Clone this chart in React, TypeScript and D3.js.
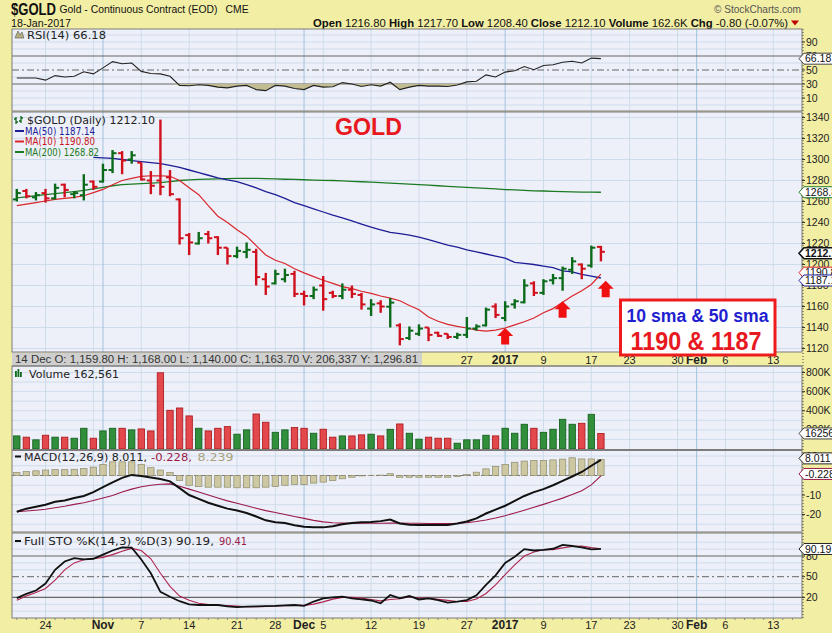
import React from "react";
import * as d3 from "d3";

// ---------------- DATA ----------------
const dates = [
  "2016-10-19","2016-10-20","2016-10-21","2016-10-24","2016-10-25","2016-10-26","2016-10-27","2016-10-28","2016-10-31",
  "2016-11-01","2016-11-02","2016-11-03","2016-11-04","2016-11-07","2016-11-08","2016-11-09","2016-11-10","2016-11-11",
  "2016-11-14","2016-11-15","2016-11-16","2016-11-17","2016-11-18","2016-11-21","2016-11-22","2016-11-23","2016-11-25",
  "2016-11-28","2016-11-29","2016-11-30","2016-12-01","2016-12-02","2016-12-05","2016-12-06","2016-12-07","2016-12-08","2016-12-09",
  "2016-12-12","2016-12-13","2016-12-14","2016-12-15","2016-12-16","2016-12-19","2016-12-20","2016-12-21","2016-12-22","2016-12-23",
  "2016-12-27","2016-12-28","2016-12-29","2016-12-30","2017-01-03","2017-01-04","2017-01-05","2017-01-06","2017-01-09","2017-01-10",
  "2017-01-11","2017-01-12","2017-01-13","2017-01-17","2017-01-18"
];
const futureDates = [
  "2017-01-19","2017-01-20","2017-01-23","2017-01-24","2017-01-25","2017-01-26","2017-01-27","2017-01-30","2017-01-31",
  "2017-02-01","2017-02-02","2017-02-03","2017-02-06","2017-02-07","2017-02-08","2017-02-09","2017-02-10","2017-02-13",
  "2017-02-14","2017-02-15","2017-02-16","2017-02-17","2017-02-21"
];

const opens = [1262,1270,1264,1268,1263,1276,1267,1266,1279,1279,1290,1306,1300,1297,1280,1280,1283,1262,1228,1220,1229,1226,1216,1208,1212,1212,1186,1182,1186,1191,1172,1170,1180,1173,1170,1176,1171,1158,1163,1159.8,1142,1130,1134,1140,1135,1134,1131,1133,1139,1142,1160,1149,1162,1164,1182,1173,1185,1187,1195,1200,1199,1216.8];
const highs = [1272,1272,1269,1272,1277,1277,1270,1286,1280,1296,1309,1308,1308,1297,1289,1338,1290,1263,1230,1231,1232,1227,1216,1217,1221,1215,1192,1195,1196,1194,1175,1179,1189,1175,1182,1180,1173,1167,1166,1168,1144,1141,1143,1140,1136,1134,1135,1150,1143,1159,1163,1165,1167,1186,1184,1186,1191,1198,1207,1201,1218,1217.7];
const lows = [1260,1263,1261,1259,1262,1264,1263,1261,1271,1278,1287,1286,1296,1280,1267,1266,1265,1219,1209,1219,1220,1209,1200,1206,1206,1180,1171,1181,1183,1169,1161,1167,1156,1168,1167,1168,1157,1151,1154,1140,1123,1128,1132,1127,1131,1129,1129,1130,1137,1141,1149,1146,1158,1163,1170,1171,1181,1175,1191,1186,1197,1203];
const closes = [1268,1265,1266,1263,1273,1271,1268,1276,1274,1290,1306,1299,1304,1281,1275,1274,1267,1225,1221,1225,1225,1216,1208,1213,1214,1188,1179,1191,1190,1172,1170,1176,1167,1170,1176,1172,1162,1162,1160,1163.7,1129,1137,1139,1133,1132,1131,1133,1139,1141,1157,1152,1160,1165,1180,1173,1184,1187,1196,1203,1196,1216,1212.1];
// thousands of contracts
const volumes = [137,124,96,144,124,124,113,217,113,189,217,217,200,210,189,797,405,429,346,217,189,217,234,155,200,366,280,175,200,224,217,165,207,124,137,137,148,155,137,206.3,262,165,103,124,113,113,61,96,96,144,137,217,165,259,217,175,207,311,259,269,363,162.6];

const ma10 = [1256,1257.5,1259,1260.5,1262,1263,1264,1265.5,1268.5,1271.5,1276,1280,1282,1284,1284.5,1284.5,1284,1280,1273,1266.5,1256,1246,1240,1233,1227,1218,1209,1204,1201,1196,1192,1188.5,1185,1182,1179,1177,1174.5,1172.5,1170,1168,1165.5,1161,1157,1150,1146,1143,1141,1139.5,1137.5,1136.5,1137.5,1139.5,1142.5,1145.5,1149,1154,1158,1164,1170,1175,1181,1190.8];
const ma50 = [null,null,null,null,null,null,null,null,1302,1301.5,1301,1300,1299,1298,1297,1296,1294.5,1292.5,1290,1287.5,1285,1282.5,1280.5,1279,1276,1273,1269.5,1266.5,1263,1259,1256,1253,1250,1247,1244.5,1241.5,1238.5,1235.5,1233,1230.5,1229.5,1228,1226,1223.6,1221,1218.5,1216.5,1214,1212,1210,1208,1206,1202,1201,1200,1198.5,1197,1194,1193,1190.5,1189,1187.14];
const ma200 = [1263.5,1264.5,1265.5,1266.5,1267.5,1268.5,1269.5,1270.5,1272,1273.5,1275,1276,1276.5,1277,1277.5,1278,1279,1280,1280.5,1281,1281.3,1281.5,1281.7,1282,1282,1282,1281.8,1281.5,1281.2,1281,1280.7,1280.4,1280.2,1280,1279.6,1279.2,1278.8,1278.4,1278,1277.5,1277,1276.5,1276,1275.5,1275,1274.5,1274,1273.5,1273,1272.5,1272,1271.4,1271,1270.5,1270.2,1270,1269.7,1269.4,1269.2,1269,1268.9,1268.82];

const rsi = [38.5,38.5,38.5,35.5,42,40,41,47.5,44.5,53,62,59,60,48,45,44.5,41,28,27.5,29,28,25.5,24.5,27,28,22,20.5,28,27,23.5,22,28,25.5,26,32,30,26.5,29,27,32.5,22,25.5,28,27,27,26.5,28.5,33,34,43,40,47,49,55,50.5,56.5,57.5,61,62.5,60,67,66.18];

const macd = [-18.6,-17,-16,-15,-13.5,-12.8,-11.5,-10.5,-8.5,-6,-3.5,-1.2,0.3,-0.3,-1,-1.8,-3,-6.5,-10,-12,-14,-15.5,-17,-18,-19.2,-21,-23,-24,-24.4,-25.5,-26.3,-26.6,-26.6,-26,-25,-24.3,-24,-23.8,-23.4,-22.6,-24.6,-25.2,-25.4,-25.4,-25.4,-25.4,-24.6,-23.6,-22,-19.5,-17.5,-15.5,-13,-10.5,-8.5,-7,-5,-2.8,-0.5,1.8,5,8.011];
const signal = [-18.6,-18.2,-17.8,-17.3,-16.5,-15.8,-14.8,-14,-12.8,-11.5,-10.3,-8.5,-7,-5.8,-5,-4.5,-4.3,-5.5,-7,-8.5,-10,-11.5,-13,-14.2,-15.5,-16.8,-18,-19,-20,-21,-22,-23,-23.8,-24.2,-24.4,-24.5,-24.5,-24.5,-24.5,-24.4,-24.4,-24.5,-24.5,-24.6,-24.6,-24.6,-24.5,-24.2,-23.6,-22.8,-21.8,-20.6,-19.2,-17.8,-16.3,-14.8,-13.2,-11.6,-9.8,-7.8,-4.8,-0.228];
const hist = [1.5,2,2.4,2.8,3,3,3.2,3.6,4.3,5.7,7,7,7,5.7,4,2.8,1.5,-2.6,-5,-5.7,-6,-6,-6,-6.3,-6.3,-6.3,-6,-5.7,-5,-4.6,-4.7,-3.9,-3.4,-2.6,-1.7,-0.9,-0.2,0.1,0.2,0.9,-0.9,-0.9,-0.9,-0.9,-0.9,-0.9,-0.5,0.5,1.7,3.4,4.6,5.6,6.8,7.4,7.7,7.7,8,8.4,9.1,8.5,8.5,8.239];

const stoK = [19,25,30,40,60,72,77,75,76,82,88,92.5,92,75,55,28,21,14.5,10,9,9,9,7,5.8,6.5,7,7.5,7.7,8.5,9,7.7,14,18.6,20,21,18.6,17,15.5,11.5,23.5,18.6,22,17,18.6,16,12.4,14,16,23,38,52,70,79,90,88,89,90.5,96,94.5,92.6,89.6,90.19];
const stoD = [16,22,27,33,45,60,70,74.5,76,78,82,87,91,88,76,55,36,22,16,11.5,9.5,9,8.3,7.3,6.5,6.5,7,7.5,8,8.4,8.4,10.3,13.5,17.5,20,20,19,17,15,17,18,21,19,19,17.2,15.7,14.1,14.1,17.7,25.7,38,53,67,80,85.7,89,89.2,91.8,93.7,94.4,92.2,90.41];

const axisLabels: [string, string, boolean][] = [
  ["2016-10-24","24",false],["2016-11-01","Nov",true],["2016-11-07","7",false],["2016-11-14","14",false],
  ["2016-11-21","21",false],["2016-11-28","28",false],["2016-12-01","Dec",true],["2016-12-05","5",false],
  ["2016-12-12","12",false],["2016-12-19","19",false],["2016-12-27","27",false],["2017-01-03","2017",true],
  ["2017-01-09","9",false],["2017-01-17","17",false],["2017-01-23","23",false],["2017-01-30","30",false],
  ["2017-02-01","Feb",true],["2017-02-06","6",false],["2017-02-13","13",false]
];
const weekGrid = ["2016-10-24","2016-10-31","2016-11-07","2016-11-14","2016-11-21","2016-11-28","2016-12-05","2016-12-12","2016-12-19","2016-12-27","2017-01-09","2017-01-17","2017-01-23","2017-01-30","2017-02-06","2017-02-13"];
const monthGrid = ["2016-11-01","2016-12-01","2017-01-03","2017-02-01"];

const arrowAt = [51, 57, 61.5];
const arrowTip = [1139.5, 1165, 1184.6];

// ---------------- STYLE ----------------
const YELLOW = "#f2eea4";
const PLOTBG = "#eef0f9";
const GRID = "#cddceb";
const GRIDM = "#9fc2de";
const BORDER = "#7c7c7c";
const UP = "#0b6b1a";
const DN = "#d0101c";
const SANS = "'Liberation Sans', Arial, sans-serif";
const NARROW = "'Liberation Sans Narrow', 'Arial Narrow', 'Liberation Sans', sans-serif";
const VERD = "'DejaVu Sans', Verdana, sans-serif";

const L = 12, R = 802;
const P = {
  rsi: [29, 111],
  main: [112, 352],
  vol: [366, 449.5],
  macd: [450.5, 532],
  sto: [533, 618],
};

function ValBox({ y, text, color, bold }: { y: number; text: string; color: string; bold?: boolean }) {
  return (
    <g>
      <path d={`M799,${y} L804,${y - 5.5} L836,${y - 5.5} L836,${y + 5.5} L804,${y + 5.5} Z`} fill="#fff" stroke={color} strokeWidth={bold ? 1.6 : 1} />
      <text x={805} y={y + 3.7} fontSize={10.5} fontFamily={SANS} fontWeight={bold ? "bold" : "normal"} fill="#111">{text}</text>
    </g>
  );
}

export default function App() {
  const sessions = [...dates, ...futureDates];
  const x = d3.scaleLinear().domain([-0.5, 82]).range([L, R]);
  const xd = (d: string) => x(sessions.indexOf(d));

  const yMain = d3.scaleLinear().domain([1120, 1340]).range([348.5, 117.5]);
  const yRsi = d3.scaleLinear().domain([30, 70]).range([84, 56]);
  const yVol = d3.scaleLinear().domain([0, 800]).range([449, 372.5]);
  const yMacd = d3.scaleLinear().domain([-20, 0]).range([514.5, 475.5]);
  const ySto = d3.scaleLinear().domain([20, 80]).range([597.4, 556]);

  const lineOf = (vals: (number | null)[], ys: d3.ScaleLinear<number, number>) =>
    d3.line<number | null>()
      .defined((v) => v != null)
      .x((_, i) => x(i))
      .y((v) => ys(v as number))
      .curve(d3.curveLinear)(vals) || "";

  const rsiFill = d3.area<number>()
    .x((_, i) => x(i))
    .y0(yRsi(30))
    .y1((v) => yRsi(Math.min(v, 30)))(rsi) || "";

  const panels = Object.entries(P);

  const vGrid = (top: number, bot: number) => (
    <g>
      {weekGrid.map((d) => <line key={d} x1={xd(d)} x2={xd(d)} y1={top} y2={bot} stroke={GRID} strokeWidth={1} />)}
      {monthGrid.map((d) => <line key={d} x1={xd(d)} x2={xd(d)} y1={top} y2={bot} stroke={GRIDM} strokeWidth={1} />)}
    </g>
  );
  const hGrid = (vals: number[], ys: d3.ScaleLinear<number, number>) => (
    <g>{vals.map((v) => <line key={v} x1={L} x2={R} y1={ys(v)} y2={ys(v)} stroke={GRID} strokeWidth={1} />)}</g>
  );
  const axisLabel = (y: number, t: string, k: string) => (
    <g key={k}>
      <line x1={R} x2={R + 3} y1={y} y2={y} stroke="#333" />
      <text x={R + 4} y={y + 3.6} fontSize={10.5} fontFamily={SANS} fill="#222">{t}</text>
    </g>
  );

  const up = (k: number) => closes[k] >= opens[k];

  return (
    <svg width={832} height={633} viewBox="0 0 832 633" style={{ position: "absolute", left: 0, top: 0, display: "block" }}>
      <defs>
        {panels.map(([k, [t, b]]) => (
          <clipPath id={`clip-${k}`} key={k}><rect x={L} y={t} width={R - L} height={b - t} /></clipPath>
        ))}
      </defs>
      <rect x={0} y={0} width={832} height={633} fill={YELLOW} />
      {panels.map(([k, [t, b]]) => <rect key={k} x={L} y={t} width={R - L} height={b - t} fill={PLOTBG} />)}

      {/* ---------- header ---------- */}
      <text x={11} y={14.5} fontFamily={NARROW} fontWeight="bold" fontSize={16} textLength={45} lengthAdjust="spacingAndGlyphs" fill="#111">$GOLD</text>
      <text x={59.5} y={13} fontFamily={NARROW} fontSize={11} textLength={158} lengthAdjust="spacingAndGlyphs" fill="#111">Gold - Continuous Contract (EOD)</text>
      <text x={225.6} y={13} fontFamily={NARROW} fontSize={11} textLength={23} lengthAdjust="spacingAndGlyphs" fill="#111">CME</text>
      <text x={714} y={12.5} fontFamily={NARROW} fontSize={11} textLength={87} lengthAdjust="spacingAndGlyphs" fill="#555">© StockCharts.com</text>
      <text x={11} y={26.5} fontFamily={NARROW} fontSize={11} textLength={60} lengthAdjust="spacingAndGlyphs" fill="#111">18-Jan-2017</text>
      <text x={313} y={26.5} fontFamily={NARROW} fontSize={11} textLength={475} lengthAdjust="spacingAndGlyphs" fill="#111">
        <tspan fontWeight="bold">Open</tspan> 1216.80 <tspan fontWeight="bold">High</tspan> 1217.70 <tspan fontWeight="bold">Low</tspan> 1208.40 <tspan fontWeight="bold">Close</tspan> 1212.10 <tspan fontWeight="bold">Volume</tspan> 162.6K <tspan fontWeight="bold">Chg</tspan> -0.80 (-0.07%)
      </text>
      <path d="M791,20.5 L799,20.5 L795,25.5 Z" fill="#c00000" />

      {/* ---------- RSI ---------- */}
      <g clipPath="url(#clip-rsi)">
        {hGrid([0, 10, 20, 40, 60, 80, 90, 100], yRsi)}
        {vGrid(P.rsi[0], P.rsi[1])}
        <line x1={L} x2={R} y1={yRsi(70)} y2={yRsi(70)} stroke="#666" strokeWidth={1.2} />
        <line x1={L} x2={R} y1={yRsi(30)} y2={yRsi(30)} stroke="#666" strokeWidth={1.2} />
        <line x1={L} x2={R} y1={yRsi(50)} y2={yRsi(50)} stroke="#666" strokeWidth={1} strokeDasharray="7,3,2,3" />
        <path d={rsiFill} fill="#c2bc92" stroke="none" />
        <path d={lineOf(rsi, yRsi)} fill="none" stroke="#222" strokeWidth={1.1} />
      </g>
      <path d="M15,38 L18,31 L20,35 L22,32 L24,38 Z" fill="#b8b080" stroke="#555" strokeWidth={0.6} />
      <text x={27} y={38.5} fontFamily={VERD} fontSize={10} textLength={79} lengthAdjust="spacingAndGlyphs" fill="#222">RSI(14) 66.18</text>

      {/* ---------- MAIN ---------- */}
      <g clipPath="url(#clip-main)">
        {hGrid(d3.range(1120, 1341, 20), yMain)}
        {vGrid(P.main[0], P.main[1])}
        <path d={lineOf(ma200, yMain)} fill="none" stroke="#1d7a24" strokeWidth={1.3} />
        <path d={lineOf(ma50, yMain)} fill="none" stroke="#1d1d95" strokeWidth={1.3} />
        <path d={lineOf(ma10, yMain)} fill="none" stroke="#d8262b" strokeWidth={1.2} />
        {dates.map((d, k) => {
          const cx = x(k);
          const c = up(k) ? UP : DN;
          return (
            <g key={d} stroke={c}>
              <line x1={cx} x2={cx} y1={yMain(highs[k])} y2={yMain(lows[k])} strokeWidth={2.4} />
              <line x1={cx - 4} x2={cx} y1={yMain(opens[k])} y2={yMain(opens[k])} strokeWidth={2} />
              <line x1={cx} x2={cx + 4} y1={yMain(closes[k])} y2={yMain(closes[k])} strokeWidth={2} />
            </g>
          );
        })}
        {arrowAt.map((a, k) => {
          const cx = x(a);
          const ty = yMain(arrowTip[k]);
          return <path key={k} d={`M${cx},${ty} L${cx + 8},${ty + 8} L${cx + 4},${ty + 8} L${cx + 4},${ty + 16.5} L${cx - 4},${ty + 16.5} L${cx - 4},${ty + 8} L${cx - 8},${ty + 8} Z`} fill="#f01010" />;
        })}
      </g>
      <g stroke={UP} strokeWidth={1.3}>
        <line x1={16} x2={16} y1={117} y2={124} /><line x1={14} x2={16} y1={119} y2={119} /><line x1={16} x2={18} y1={122} y2={122} />
        <line x1={21} x2={21} y1={116} y2={123} /><line x1={19} x2={21} y1={121} y2={121} /><line x1={21} x2={23} y1={118} y2={118} />
      </g>
      <text x={27} y={124} fontFamily={VERD} fontSize={10} textLength={128} lengthAdjust="spacingAndGlyphs" fill="#222">$GOLD (Daily) 1212.10</text>
      <line x1={15} x2={24} y1={131} y2={131} stroke="#1d1d95" strokeWidth={2} />
      <text x={25} y={134.8} fontFamily={VERD} fontSize={10} textLength={70} lengthAdjust="spacingAndGlyphs" fill="#1d1d95">MA(50) 1187.14</text>
      <line x1={15} x2={24} y1={141.5} y2={141.5} stroke="#d8262b" strokeWidth={2} />
      <text x={25} y={145.4} fontFamily={VERD} fontSize={10} textLength={70} lengthAdjust="spacingAndGlyphs" fill="#c8161b">MA(10) 1190.80</text>
      <line x1={15} x2={24} y1={152} y2={152} stroke="#1d7a24" strokeWidth={2} />
      <text x={25} y={156} fontFamily={VERD} fontSize={10} textLength={74} lengthAdjust="spacingAndGlyphs" fill="#1d7a24">MA(200) 1268.82</text>
      <text x={335} y={134.5} fontFamily={SANS} fontWeight="bold" fontSize={23} textLength={67} lengthAdjust="spacingAndGlyphs" fill="#e8191e">GOLD</text>

      {/* ---------- date strip ---------- */}
      <rect x={L} y={352.5} width={410} height={13.5} fill="#cfcfcf" />
      <text x={15} y={363} fontFamily={SANS} fontSize={10} textLength={403} lengthAdjust="spacingAndGlyphs" fill="#333">14 Dec O: 1,159.80  H: 1,168.00  L: 1,140.00  C: 1,163.70  V: 206,337  Y: 1,296.81</text>
      {axisLabels.filter(([d]) => xd(d) > 440).map(([d, t, b]) => (
        <text key={"s" + d} x={xd(d)} y={363.5} textAnchor="middle" fontFamily={NARROW} fontWeight={b ? "bold" : "normal"} fontSize={b ? 12 : 11} fill="#222">{t}</text>
      ))}

      {/* ---------- VOLUME ---------- */}
      <g clipPath="url(#clip-vol)">
        {hGrid([100, 200, 300, 400, 500, 600, 700, 800], yVol)}
        {vGrid(P.vol[0], P.vol[1])}
        {volumes.map((v, k) => (
          <rect key={k} x={x(k) - 3.2} y={yVol(v)} width={6.4} height={yVol(0) - yVol(v)}
            fill={up(k) ? "#318f3b" : "#e2484c"} stroke={up(k) ? "#0e5a18" : "#a81418"} strokeWidth={0.8} />
        ))}
      </g>
      <g fill={UP}><rect x={15} y={371} width={1.8} height={6} /><rect x={17.5} y={369} width={1.8} height={8} /><rect x={20} y={372} width={1.8} height={5} /></g>
      <text x={29} y={377.5} fontFamily={VERD} fontSize={10} textLength={90} lengthAdjust="spacingAndGlyphs" fill="#222">Volume 162,561</text>

      {/* ---------- MACD ---------- */}
      <g clipPath="url(#clip-macd)">
        {hGrid([10, 5, -5, -10, -15, -20, -25], yMacd)}
        {vGrid(P.macd[0], P.macd[1])}
        <line x1={L} x2={x(dates.length - 1) + 4} y1={yMacd(0)} y2={yMacd(0)} stroke="#777" strokeDasharray="4,3" />
        {hist.map((h, k) => (
          <rect key={k} x={x(k) - 3.2} y={Math.min(yMacd(h), yMacd(0))} width={6.4} height={Math.abs(yMacd(h) - yMacd(0))}
            fill="#cdc8a2" stroke="#8d8a6c" strokeWidth={0.7} />
        ))}
        <path d={lineOf(signal, yMacd)} fill="none" stroke="#9a1a4a" strokeWidth={1.1} />
        <path d={lineOf(macd, yMacd)} fill="none" stroke="#111" strokeWidth={2} />
      </g>
      <line x1={15} x2={21} y1={456.5} y2={456.5} stroke="#111" strokeWidth={2} />
      <text x={24} y={460.5} fontFamily={VERD} fontSize={10} textLength={123} lengthAdjust="spacingAndGlyphs" fill="#222">MACD(12,26,9) 8.011,</text>
      <text x={151} y={460.5} fontFamily={VERD} fontSize={10} textLength={41} lengthAdjust="spacingAndGlyphs" fill="#9a1a4a">-0.228,</text>
      <text x={197.5} y={460.5} fontFamily={VERD} fontSize={10} textLength={36} lengthAdjust="spacingAndGlyphs" fill="#a6a27c">8.239</text>

      {/* ---------- STO ---------- */}
      <g clipPath="url(#clip-sto)">
        {hGrid([0, 10, 30, 40, 60, 70, 90, 100], ySto)}
        {vGrid(P.sto[0], P.sto[1])}
        <line x1={L} x2={R} y1={ySto(80)} y2={ySto(80)} stroke="#666" strokeWidth={1.2} />
        <line x1={L} x2={R} y1={ySto(20)} y2={ySto(20)} stroke="#666" strokeWidth={1.2} />
        <line x1={L} x2={R} y1={ySto(50)} y2={ySto(50)} stroke="#666" strokeWidth={1} strokeDasharray="7,3,2,3" />
        <path d={lineOf(stoD, ySto)} fill="none" stroke="#b0234f" strokeWidth={1.1} />
        <path d={lineOf(stoK, ySto)} fill="none" stroke="#111" strokeWidth={1.8} />
      </g>
      <line x1={15} x2={21} y1={541} y2={541} stroke="#111" strokeWidth={2} />
      <text x={24} y={545} fontFamily={VERD} fontSize={10} textLength={190} lengthAdjust="spacingAndGlyphs" fill="#222">Full STO %K(14,3) %D(3) 90.19,</text>
      <text x={219} y={545} fontFamily={VERD} fontSize={10} textLength={28} lengthAdjust="spacingAndGlyphs" fill="#9a1a4a">90.41</text>

      {/* ---------- panel borders ---------- */}
      {panels.map(([k, [t, b]]) => <rect key={"b" + k} x={L} y={t} width={R - L} height={b - t} fill="none" stroke={BORDER} strokeWidth={1} />)}
      <line x1={L} x2={R} y1={366} y2={366} stroke={BORDER} />

      {/* ---------- annotation box ---------- */}
      <rect x={620.5} y={300} width={154.5} height={55} fill="#fff" stroke="#ee1c1c" strokeWidth={3} />
      <text x={697.5} y={321.5} textAnchor="middle" fontFamily={SANS} fontWeight="bold" fontSize={18} textLength={142} lengthAdjust="spacingAndGlyphs" fill="#1f1fcf">10 sma &amp; 50 sma</text>
      <text x={696} y={349.5} textAnchor="middle" fontFamily={SANS} fontWeight="bold" fontSize={25} textLength={131} lengthAdjust="spacingAndGlyphs" fill="#e8191e">1190 &amp; 1187</text>

      {/* ---------- right axes ---------- */}
      <line x1={R + 1} x2={R + 1} y1={P.rsi[0]} y2={P.sto[1]} stroke="#444" strokeDasharray="1,2" />
      {[90, 70, 50, 30, 10].map((v) => axisLabel(yRsi(v), String(v), "r" + v))}
      {d3.range(1120, 1341, 20).map((v) => axisLabel(yMain(v), String(v), "m" + v))}
      {[800, 600, 400, 200].map((v) => axisLabel(yVol(v), v + "K", "v" + v))}
      {[10, -10, -20].map((v) => axisLabel(yMacd(v), String(v), "c" + v))}
      {[80, 50, 20].map((v) => axisLabel(ySto(v), String(v), "s" + v))}

      <ValBox y={yRsi(66.18)} text="66.18" color="#444" />
      <ValBox y={yMain(1268.82)} text="1268.82" color="#1d7a24" />
      <ValBox y={yMain(1212.1) + 1.5} text="1212.10" color="#111" bold />
      <ValBox y={yMain(1190.8) - 1.5} text="1190.80" color="#d8262b" />
      <ValBox y={yMain(1187.14) + 2.5} text="1187.14" color="#1d1d95" />
      <ValBox y={yVol(162.561)} text="162561" color="#444" />
      <ValBox y={yMacd(8.011) - 1.5} text="8.011" color="#222" />
      <ValBox y={yMacd(-0.228) - 2} text="-0.228" color="#9a1a4a" />
      <ValBox y={ySto(90.19)} text="90.19" color="#222" />

      {/* ---------- bottom axis ---------- */}
      {sessions.map((d, k) => (x(k) < R ? <line key={"t" + d} x1={x(k)} x2={x(k)} y1={618} y2={620} stroke="#777" strokeWidth={0.8} /> : null))}
      {axisLabels.map(([d, t, b]) => (
        <text key={"b" + d} x={xd(d)} y={629} textAnchor="middle" fontFamily={NARROW} fontWeight={b ? "bold" : "normal"} fontSize={b ? 12 : 11} fill="#222">{t}</text>
      ))}
    </svg>
  );
}
